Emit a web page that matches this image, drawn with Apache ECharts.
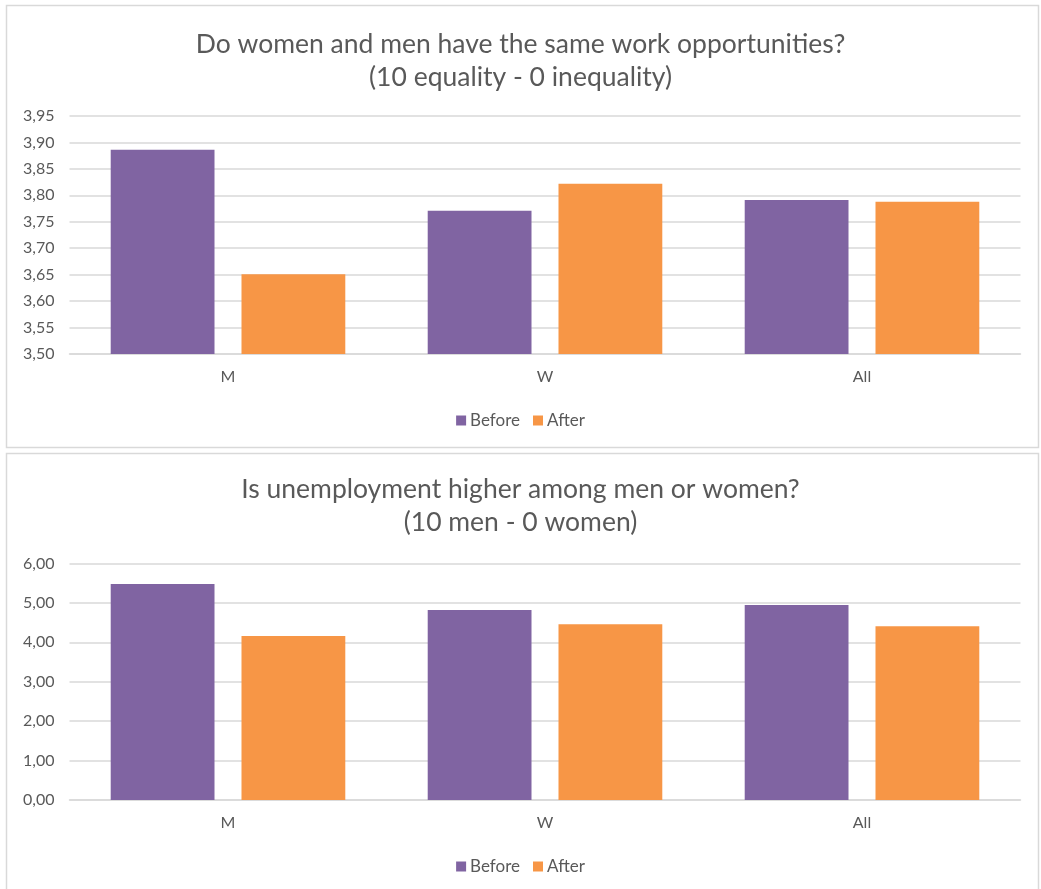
<!DOCTYPE html>
<html>
<head>
<meta charset="utf-8">
<script src="https://cdn.jsdelivr.net/npm/echarts@6/dist/echarts.min.js"></script>
<style>
  html, body { margin: 0; padding: 0; background: #ffffff; }
  #chart { width: 1041px; height: 889px; }
</style>
</head>
<body>
<div id="chart"></div>
<script>
// Survey answers before and after, by group
const categories = ['M', 'W', 'All'];
const seriesNames = ['Before', 'After'];

// Do women and men have the same work opportunities? (10 equality - 0 inequality)
const opportunityBefore = [3.886, 3.771, 3.791];
const opportunityAfter = [3.651, 3.822, 3.788];

// Is unemployment higher among men or women? (10 men - 0 women)
const unemploymentBefore = [5.48, 4.82, 4.95];
const unemploymentAfter = [4.16, 4.46, 4.41];

const titleLines = [
  ['Do women and men have the same work opportunities?', '(10 equality - 0 inequality)'],
  ['Is unemployment higher among men or women?', '(10 men - 0 women)']
];

const COLORS = ['#8064A2', '#F79646'];
const FONT = 'Lato, "Open Sans", sans-serif';
const TEXT = '#595959';
const GRIDLINE = '#d9d9d9';

const fmt = v => v.toFixed(2).replace('.', ',');

const chart = echarts.init(document.getElementById('chart'), null, { renderer: 'canvas' });

function titleItem(text, top) {
  return {
    text: text,
    left: 'center',
    top: top,
    textStyle: { color: TEXT, fontFamily: FONT, fontSize: 26.5, fontWeight: 'normal' }
  };
}

function yAxis(gridIndex, min, max, interval) {
  return {
    type: 'value',
    gridIndex: gridIndex,
    min: min,
    max: max,
    interval: interval,
    axisLine: { show: false },
    axisTick: { show: false },
    axisLabel: { color: TEXT, fontFamily: FONT, fontSize: 16, margin: 15, formatter: fmt },
    splitLine: { lineStyle: { color: GRIDLINE, width: 1.5 } }
  };
}

function xAxis(gridIndex) {
  return {
    type: 'category',
    gridIndex: gridIndex,
    data: categories,
    axisLine: { lineStyle: { color: GRIDLINE, width: 1.5 } },
    axisTick: { show: false },
    axisLabel: { color: TEXT, fontFamily: FONT, fontSize: 16, margin: 15 }
  };
}

function bars(name, data, idx, axisIdx) {
  return {
    name: name,
    type: 'bar',
    xAxisIndex: axisIdx,
    yAxisIndex: axisIdx,
    data: data,
    barGap: '26%',
    barCategoryGap: '26%',
    itemStyle: { color: COLORS[idx] },
    emphasis: { disabled: true }
  };
}

function legend(top) {
  return {
    data: seriesNames,
    left: 'center',
    top: top,
    icon: 'rect',
    itemWidth: 10,
    itemHeight: 10,
    itemGap: 13,
    itemStyle: { borderWidth: 0 },
    textStyle: { color: TEXT, fontFamily: FONT, fontSize: 17, padding: [0, 0, 0, -1] }
  };
}

chart.setOption({
  backgroundColor: '#ffffff',
  animation: false,
  color: COLORS,
  graphic: [
    { type: 'rect', shape: { x: 6.5, y: 5.5, width: 1032, height: 442 },
      style: { fill: 'none', stroke: '#d9d9d9', lineWidth: 1.5 }, z: -1 },
    { type: 'rect', shape: { x: 6.5, y: 453.5, width: 1032, height: 445 },
      style: { fill: 'none', stroke: '#d9d9d9', lineWidth: 1.5 }, z: -1 }
  ],
  title: [
    titleItem(titleLines[0][0], 26),
    titleItem(titleLines[0][1], 59),
    titleItem(titleLines[1][0], 471),
    titleItem(titleLines[1][1], 504)
  ],
  legend: [legend(407), legend(853)],
  grid: [
    { left: 69.5, right: 20.5, top: 116, height: 238 },
    { left: 69.5, right: 20.5, top: 563.5, height: 236.5 }
  ],
  xAxis: [xAxis(0), xAxis(1)],
  yAxis: [yAxis(0, 3.5, 3.95, 0.05), yAxis(1, 0, 6, 1)],
  series: [
    bars(seriesNames[0], opportunityBefore, 0, 0),
    bars(seriesNames[1], opportunityAfter, 1, 0),
    bars(seriesNames[0], unemploymentBefore, 0, 1),
    bars(seriesNames[1], unemploymentAfter, 1, 1)
  ]
});
</script>
</body>
</html>
